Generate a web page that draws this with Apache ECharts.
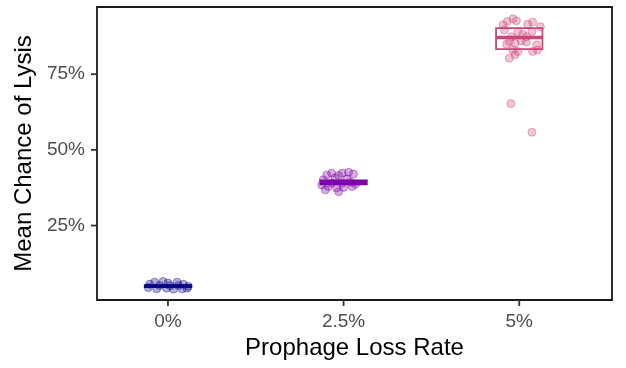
<!DOCTYPE html>
<html>
<head>
<meta charset="utf-8">
<script src="https://cdn.jsdelivr.net/npm/echarts@6/dist/echarts.min.js"></script>
<style>
  html, body { margin: 0; padding: 0; background: #fff; }
  #chart { width: 626px; height: 368px; }
</style>
</head>
<body>
<div id="chart"></div>
<script>
// loss rate groups (x position in %)
var groupNames = ['0%', '2.5%', '5%'];
var groupX = [0, 2.5, 5];
var groupColors = ['#0D0887', '#7E03A8', '#CC4678'];

// box stats per group: q1, median, q3
var box0 = [4.7, 5.0, 5.3];
var box25 = [38.6, 39.2, 39.9];
var box5 = [83.3, 87.1, 90.2];

// jittered points: x offset from group centre, mean chance of lysis (%)
var jitter0 = [-0.26, -0.19, -0.07, 0.0, 0.13, 0.22, 0.29, -0.28, -0.16, -0.02, 0.08, 0.20, -0.12, 0.03, 0.15, 0.27];
var lysis0 = [5.6, 6.3, 6.5, 6.0, 6.3, 5.6, 4.9, 4.5, 4.1, 4.3, 4.0, 4.1, 5.2, 5.1, 5.2, 4.3];

var jitter25 = [-0.24, -0.17, -0.07, -0.02, 0.07, 0.14, -0.29, -0.12, 0.05, -0.22, -0.10, 0.0, 0.12, -0.26, -0.07, 0.17, -0.17, -0.02, 0.10, -0.31];
var lysis25 = [41.7, 42.3, 41.5, 42.3, 42.6, 42.0, 40.1, 40.7, 40.4, 37.9, 37.4, 37.6, 37.9, 36.8, 36.2, 38.7, 39.0, 39.0, 39.3, 38.4];

var jitter5 = [-0.23, -0.17, -0.09, -0.04, 0.12, 0.19, -0.21, -0.02, 0.05, 0.18, -0.14, -0.06, 0.03, 0.10, 0.25, -0.18, -0.09, -0.06, -0.14, 0.19, 0.26, -0.02, 0.10, -0.11, 0.30, -0.12, 0.18];
var lysis5 = [91.3, 92.4, 93.3, 92.6, 91.5, 92.2, 89.6, 89.1, 88.2, 89.1, 85.8, 85.2, 86.0, 85.6, 84.7, 84.9, 83.0, 81.4, 80.3, 82.5, 83.0, 82.5, 87.4, 87.4, 90.7, 65.3, 55.8];

var xTicks = [0, 2.5, 5];
var yTicks = [25, 50, 75];

var xMin = -1.01, xMax = 6.32;
var yMin = 0.4, yMax = 97.2;

var myChart = echarts.init(document.getElementById('chart'));

var boxes = [box0, box25, box5];
var boxData = boxes.map(function (b, i) {
  return [groupX[i]].concat(b).concat([i]);
});

function pointsFor(i, offsets, values) {
  return offsets.map(function (dx, k) {
    return [groupX[i] + dx, values[k]];
  });
}

var jitterSets = [[jitter0, lysis0], [jitter25, lysis25], [jitter5, lysis5]];

var tickFont = {
  fontFamily: 'Liberation Sans, Arial, sans-serif',
  fontSize: 19,
  color: '#4D4D4D'
};
var titleFont = {
  fontFamily: 'Liberation Sans, Arial, sans-serif',
  fontSize: 24,
  color: '#000'
};

var tickLen = 6;
var tickStyle = { stroke: '#333', lineWidth: 1.8 };

// axis tick marks, placed through the axis scales
var tickData = xTicks.map(function (v) { return [v, yMin, 0]; })
  .concat(yTicks.map(function (v) { return [xMin, v, 1]; }));

var series = [{
  type: 'custom',
  name: 'ticks',
  data: tickData,
  clip: false,
  silent: true,
  z: 5,
  renderItem: function (params, api) {
    var p = api.coord([api.value(0), api.value(1)]);
    var vertical = api.value(2) === 0;
    var shape = vertical
      ? { x1: p[0], y1: p[1], x2: p[0], y2: p[1] + tickLen }
      : { x1: p[0] - tickLen, y1: p[1], x2: p[0], y2: p[1] };
    return { type: 'line', shape: shape, style: tickStyle };
  }
}, {
  type: 'custom',
  name: 'box',
  data: boxData,
  encode: { x: 0, y: [1, 3] },
  z: 2,
  renderItem: function (params, api) {
    var x = api.value(0);
    var col = groupColors[api.value(4)];
    var half = api.size([0.33, 0])[0];
    var pQ1 = api.coord([x, api.value(1)]);
    var pMed = api.coord([x, api.value(2)]);
    var pQ3 = api.coord([x, api.value(3)]);
    return {
      type: 'group',
      children: [
        { type: 'rect', shape: { x: pQ3[0] - half, y: pQ3[1], width: half * 2, height: pQ1[1] - pQ3[1] },
          style: { fill: 'none', stroke: col, lineWidth: 1.8 } },
        { type: 'line', shape: { x1: pMed[0] - half, y1: pMed[1], x2: pMed[0] + half, y2: pMed[1] },
          style: { stroke: col, lineWidth: 3.6 } }
      ]
    };
  }
}];

jitterSets.forEach(function (set, i) {
  series.push({
    type: 'scatter',
    name: groupNames[i],
    data: pointsFor(i, set[0], set[1]),
    symbolSize: 8,
    z: 3,
    itemStyle: {
      color: echarts.color.modifyAlpha(groupColors[i], 0.4),
      borderColor: echarts.color.modifyAlpha(groupColors[i], 0.5),
      borderWidth: 1
    }
  });
});

var option = {
  animation: false,
  grid: {
    left: 97,
    right: 14,
    top: 7,
    bottom: 68,
    show: true,
    borderColor: '#1a1a1a',
    borderWidth: 1.8
  },
  xAxis: {
    type: 'value',
    min: xMin,
    max: xMax,
    name: 'Prophage Loss Rate',
    nameLocation: 'middle',
    nameGap: 36,
    nameTextStyle: titleFont,
    axisLine: { show: false, onZero: false },
    splitLine: { show: false },
    axisTick: { show: false },
    axisLabel: Object.assign({
      margin: 12,
      customValues: xTicks,
      formatter: function (v) { return v + '%'; }
    }, tickFont)
  },
  yAxis: {
    type: 'value',
    min: yMin,
    max: yMax,
    name: 'Mean Chance of Lysis',
    nameLocation: 'middle',
    nameRotate: 90,
    nameGap: 55,
    nameTextStyle: titleFont,
    axisLine: { show: false, onZero: false },
    splitLine: { show: false },
    axisTick: { show: false },
    axisLabel: Object.assign({
      margin: 12,
      customValues: yTicks,
      formatter: function (v) { return v + '%'; }
    }, tickFont)
  },
  series: series
};

myChart.setOption(option);
</script>
</body>
</html>
